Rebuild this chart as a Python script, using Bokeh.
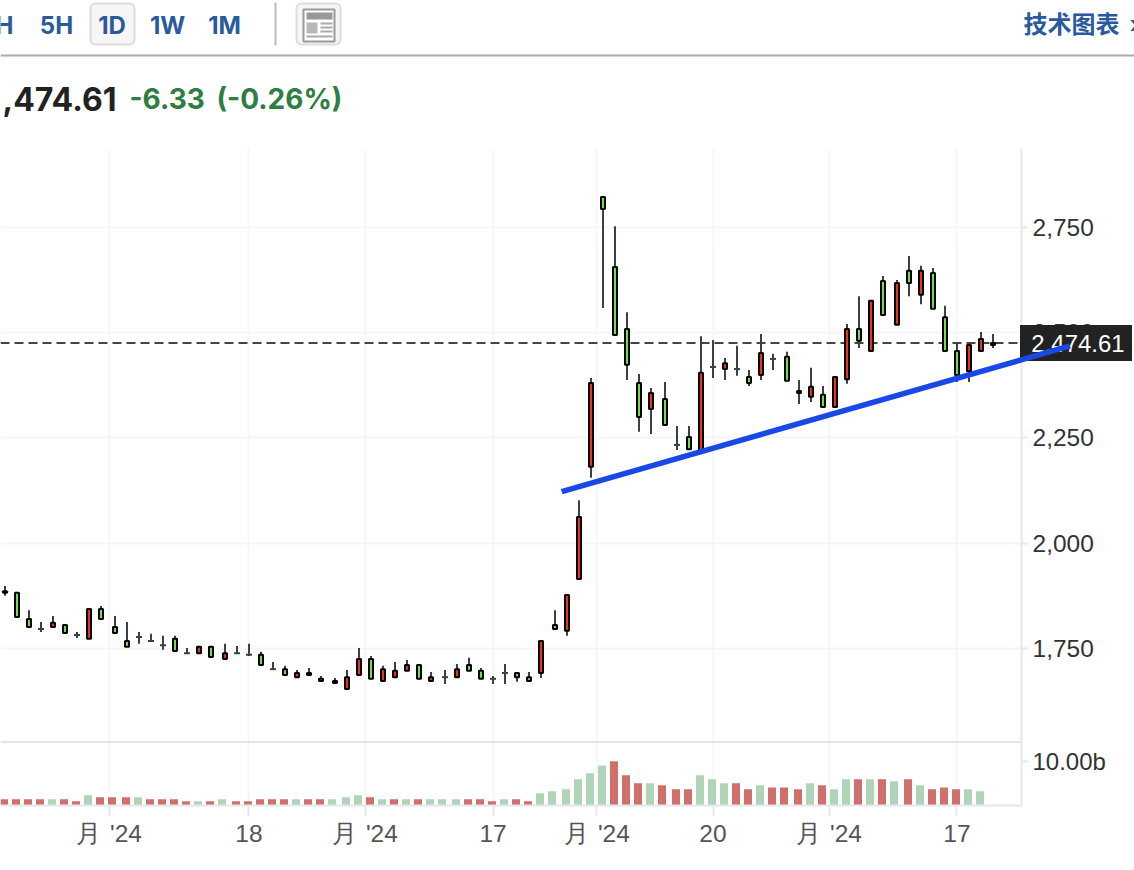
from bokeh.plotting import figure
from bokeh.layouts import column
from bokeh.models import (Range1d, FixedTicker, NumeralTickFormatter, Span, BoxAnnotation)
from bokeh.embed import file_html
from bokeh.resources import INLINE
from bokeh.core.properties import value

# ---- data ----
highs = [1898,1882,1841,1813,1827,1806,1789,1844,1851,1827,1813,1789,1785,1780,1780,1751,1754,1754,1761,1756,1761,1742,1718,1709,1699,1704,1685,1680,1699,1751,1732,1709,1718,1723,1711,1694,1699,1713,1728,1704,1685,1713,1692,1694,1768,1841,1877,2102,2392,2821,2752,2548,2401,2368,2382,2278,2278,2491,2482,2439,2468,2411,2496,2449,2454,2387,2416,2373,2394,2520,2586,2575,2634,2624,2681,2658,2653,2563,2475,2477,2501,2496]
opens = [1886,1882,1820,1796,1801,1806,1782,1773,1844,1801,1768,1777,1768,1758,1773,1739,1739,1754,1725,1739,1735,1735,1701,1701,1682,1692,1678,1673,1654,1687,1725,1673,1682,1697,1711,1673,1682,1682,1711,1697,1678,1692,1692,1682,1692,1806,1792,1915,2181,2821,2655,2508,2380,2318,2342,2233,2252,2219,2418,2413,2413,2394,2399,2437,2442,2361,2347,2352,2323,2389,2508,2456,2622,2518,2646,2589,2641,2536,2456,2408,2456,2475]
closes = [1882,1825,1801,1796,1811,1787,1782,1844,1820,1787,1754,1777,1768,1758,1744,1739,1754,1730,1739,1739,1735,1711,1701,1687,1692,1687,1673,1668,1682,1725,1678,1701,1697,1711,1678,1682,1682,1701,1697,1678,1678,1692,1682,1673,1768,1796,1877,2062,2380,2793,2494,2423,2299,2356,2280,2233,2223,2404,2418,2427,2413,2380,2451,2437,2385,2356,2371,2323,2394,2508,2480,2575,2541,2617,2617,2646,2556,2456,2399,2470,2484,2470]
lows = [1875,1825,1801,1789,1801,1787,1775,1773,1820,1787,1754,1761,1766,1747,1744,1737,1739,1730,1725,1737,1732,1711,1699,1687,1682,1687,1673,1668,1654,1687,1678,1673,1682,1697,1678,1673,1666,1682,1697,1678,1666,1666,1671,1673,1680,1796,1780,1915,2155,2558,2494,2387,2264,2259,2280,2221,2223,2219,2392,2387,2397,2373,2387,2411,2385,2330,2335,2323,2323,2378,2463,2456,2541,2518,2586,2567,2556,2456,2382,2382,2456,2463]
candle_blocks = [9,9,9,9,9,9,10,9,9]

volumes = [1.3,1.3,1.3,1.3,1.3,1.3,0.83,2.2,1.74,1.74,1.74,1.74,1.3,1.3,1.3,0.83,0.83,0.83,1.3,0.83,0.83,1.3,1.3,1.3,1.3,1.3,1.3,1.3,1.74,2.2,1.74,1.3,1.3,1.3,1.3,1.3,1.3,1.3,1.3,1.3,0.83,1.3,1.3,0.83,2.65,3.1,
           3.56,5.83,7.2,9.0,9.92,6.74,4.92,4.92,4.47,3.56,3.56,6.74,5.83,4.92,4.92,3.56,4.47,4.0,4.0,3.56,4.92,4.47,3.56,5.83,5.83,5.83,5.83,5.38,5.83,4.47,3.56,4.0,3.56,3.56,3.1]
vol_dirs = list("rrrrgrrgrrrgrrrrgrgrrrrrgrrgggrgrgrgggrrrgrrgg" + "ggggrrrgrrrggg" + "rrgrrrgrggrgrgrgrrrgg")
volume_blocks = [10,9,9,9,9,9,10,9,7]

tick_sessions = [8.667, 20.333, 30, 40.667, 49.333, 59, 68.667, 79.333]
tick_labels = ["月\u200a '24", "18", "月\u200a '24", "17", "月\u200a '24", "20", "月\u200a '24", "17"]
price_ticks = [1750, 2000, 2250, 2500, 2750]
last_price = 2474.61
trend_x = [46.39, 88.75]
trend_y = [2122, 2468]

W, FRAME_W = 1134, 1021
FONT = "Liberation Sans"
HEAD = "#2a5a9e"
HALF = 0.5  # Bokeh's half-pixel canvas offset

def positions(blocks, shift=0.0):
    out = []
    i = 0
    for b, n in enumerate(blocks):
        for _ in range(n):
            out.append(i + b / 6 + shift)
            i += 1
    return out

xs = positions(candle_blocks)
vx = positions(volume_blocks, -1 / 12)
x_range = Range1d(-(5 - HALF) / 12, (FRAME_W - 5 + HALF) / 12)

# ---- header ----
h = figure(width=W, height=148, x_range=(0, W), y_range=(148, 0), toolbar_location=None,
           output_backend="svg", min_border=0, outline_line_color=None, border_fill_color="white",
           styles={"position": "absolute", "left": "0px", "top": "0px"})
h.axis.visible = False
h.grid.visible = False
for l, r in [(90, 134), (296, 340)]:
    h.add_layout(BoxAnnotation(left=l, right=r, top=3, bottom=44, fill_color="#f6f6f6", fill_alpha=1,
                               line_color="#dddddd", line_width=2, line_alpha=1, border_radius=5,
                               level="underlay"))
h.segment([275], [2], [275], [45], line_color="#bbbbbb", line_width=2)
h.segment([0], [55], [W], [55], line_color="#aaaaaa", line_width=2)
h.quad(left=[303], right=[334], top=[9], bottom=[41], fill_color="white", line_color="#999999", line_width=2)
h.quad(left=[306], right=[332], top=[12], bottom=[19], fill_color="#999999", line_color=None)
h.quad(left=[306], right=[317], top=[22], bottom=[33], fill_color="#b8b8b8", line_color=None)
h.segment([320, 320, 320, 306], [23, 27, 31, 36], [332, 332, 332, 332], [23, 27, 31, 36], line_color="#aaaaaa", line_width=2)

def head_text(x, y, s, size, color, align="left", font="Inter", style="bold"):
    h.text([x], [y], text=[s], text_font=value(font), text_font_size=size, text_color=color,
           text_font_style=style, text_align=align, text_baseline="middle")

head_text(13, 25, "H", "24px", HEAD, "right")
head_text(56, 25, "5H", "24px", HEAD, "center")
head_text(111.5, 25, "1D", "24px", HEAD, "center")
head_text(167, 25, "1W", "24px", HEAD, "center")
head_text(224, 25, "1M", "24px", HEAD, "center")
head_text(1023, 22, "技术图表", "24px", HEAD, "left", "Noto Sans CJK SC")
head_text(1129, 24, "»", "24px", HEAD, "left")
head_text(116, 98, ",474.61", "32px", "#222222", "right")
head_text(129, 98, "-6.33", "28px", "#2e7d43", "left")
head_text(216, 98, "(-0.26%)", "28px", "#2e7d43", "left")

# ---- price pane ----
SCALE = 0.4215
P_TOP = 2750 + (226.5 - 148) / SCALE
P_BOT = 1750 - (741 - 648) / SCALE
p = figure(width=W, height=593, x_range=x_range, y_range=Range1d(P_BOT, P_TOP), toolbar_location=None,
           output_backend="svg", min_border_left=0, min_border_right=W - FRAME_W, min_border_top=0,
           min_border_bottom=0, outline_line_color=None, border_fill_color="white", y_axis_location="right")
p.xaxis.visible = False
p.xgrid.ticker = FixedTicker(ticks=tick_sessions)
p.ygrid.ticker = FixedTicker(ticks=price_ticks)
p.grid.grid_line_color = "#f6f6f8"
p.grid.grid_line_width = 2
ax = p.yaxis[0]
ax.ticker = FixedTicker(ticks=price_ticks)
ax.formatter = NumeralTickFormatter(format="0,0")
ax.axis_line_color = "#e6e8ef"
ax.axis_line_width = 2
ax.major_tick_line_color = "#e6e8ef"
ax.major_tick_line_width = 2
ax.major_tick_out = 6
ax.major_tick_in = 0
ax.minor_tick_line_color = None
ax.major_label_standoff = 5
ax.major_label_text_font = FONT
ax.major_label_text_font_size = "24.5px"
ax.major_label_text_color = "#333333"

p.add_layout(Span(location=last_price, dimension="width", line_color="#444444", line_width=2,
                  line_dash="9 5", level="underlay"))
p.segment(xs, highs, xs, lows, line_color="#3a4046", line_width=2)
is_doji = [o == c for o, c in zip(opens, closes)]
dx = [x for x, d in zip(xs, is_doji) if d]
dy = [o for o, d in zip(opens, is_doji) if d]
p.segment([x - 0.25 for x in dx], dy, [x + 0.25 for x in dx], dy, line_color="#3a4046", line_width=2)
bx = [x for x, d in zip(xs, is_doji) if not d]
bo = [o for o, d in zip(opens, is_doji) if not d]
bc = [c for c, d in zip(closes, is_doji) if not d]
bcol = ["#f0321c" if c > o else "#72e04a" for o, c in zip(bo, bc)]
p.vbar(x=bx, top=bo, bottom=bc, width=4 / 12, fill_color=bcol, line_color="#000000", line_width=2)

# ---- volume pane ----
VS = 4.4
v = figure(width=W, height=129, x_range=x_range, y_range=Range1d(-HALF / VS, (64 - HALF) / VS), toolbar_location=None,
           output_backend="svg", min_border_left=0, min_border_right=W - FRAME_W, min_border_top=0,
           min_border_bottom=65, outline_line_color=None, border_fill_color="white", y_axis_location="right")
v.ygrid.visible = False
v.xgrid.ticker = FixedTicker(ticks=tick_sessions)
v.xgrid.grid_line_color = "#f6f6f8"
v.xgrid.grid_line_width = 2
vcol = ["#cf706c" if d == "r" else "#b0d4b8" for d in vol_dirs]
v.vbar(x=vx, top=volumes, bottom=0, width=8 / 12, fill_color=vcol, line_color=None)
v.add_layout(Span(location=(64 - HALF) / VS, dimension="width", line_color="#cccccc", line_width=2))

xa = v.xaxis[0]
xa.ticker = FixedTicker(ticks=tick_sessions)
xa.major_label_overrides = dict(zip(tick_sessions, tick_labels))
xa.major_label_text_font = FONT
xa.major_label_text_font_size = "24.5px"
xa.major_label_text_color = "#555555"
xa.major_label_standoff = 3
xa.axis_line_color = "#e6e8ef"
xa.axis_line_width = 2
xa.major_tick_line_color = "#e6e8ef"
xa.major_tick_line_width = 2
xa.major_tick_out = 11
xa.major_tick_in = 0
xa.minor_tick_line_color = None

ya = v.yaxis[0]
ya.ticker = FixedTicker(ticks=[10])
ya.major_label_overrides = {10: "10.00b"}
ya.axis_line_color = "#e6e8ef"
ya.axis_line_width = 2
ya.major_tick_line_color = "#e6e8ef"
ya.major_tick_line_width = 2
ya.major_tick_out = 6
ya.major_tick_in = 0
ya.minor_tick_line_color = None
ya.major_label_standoff = 5
ya.major_label_text_font = FONT
ya.major_label_text_font_size = "24px"
ya.major_label_text_color = "#333333"

panes = column(p, v, spacing=0, styles={"position": "absolute", "left": "0px", "top": "148px"})

# ---- transparent overlay: price tag and trend line cross the pane's right edge ----
o = figure(width=W, height=593, x_range=Range1d(x_range.start, (W - 5 + HALF) / 12), y_range=Range1d(P_BOT, P_TOP),
           toolbar_location=None, output_backend="svg", min_border=0, outline_line_color=None,
           background_fill_color=None, border_fill_color=None,
           styles={"position": "absolute", "left": "0px", "top": "148px", "pointer-events": "none"})
o.axis.visible = False
o.grid.visible = False
tag_left, tag_right = (1020 - 5) / 12, (1132 - 5) / 12
o.quad(left=[tag_left], right=[tag_right], top=[last_price + 18 / SCALE], bottom=[last_price - 18 / SCALE],
       fill_color="#222222", line_color=None)
o.text([(1078 - 5) / 12], [last_price], text=["2,474.61"], text_color="white", text_font=value(FONT),
       text_font_size="24px", text_align="center", text_baseline="middle")
o.line(trend_x, trend_y, line_color="#1848e6", line_width=5.5)

open("out.html", "w").write(file_html([h, panes, o], INLINE))
